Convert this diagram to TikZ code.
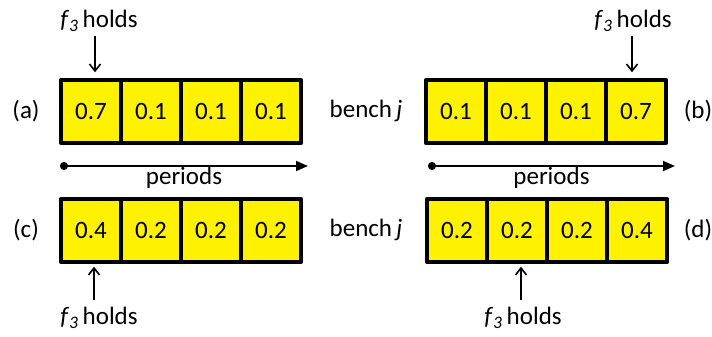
\documentclass[tikz,border=0pt]{standalone}
\usepackage{fontspec}
\setmainfont{Carlito}
\usetikzlibrary{positioning,arrows.meta}
\tikzset{
  probcell/.style={fill=yellow, minimum width=60pt,
    minimum height=62pt, inner sep=0pt, font=\fontsize{25}{29}\selectfont},
  rowline/.style={line width=4.2pt, line join=round},
  txt/.style={inner sep=1pt, font=\fontsize{25}{29}\selectfont},
  hold/.style={-{Straight Barb[length=7pt,width=11pt,line width=1.6pt]}, line width=1.6pt},
  period/.style={{Circle[length=8pt]}-{Triangle[length=12pt,width=10pt]}, line width=1.8pt}
}
\newcommand{\fholds}{\textit{f}\textsubscript{\textit{3}}\,holds}
\begin{document}
\begin{tikzpicture}[x=1pt,y=-1pt]
	\useasboundingbox (0,0) rectangle (712,337);
	% the four rows of cells
	\foreach \v [count=\i] in {0.7,0.1,0.1,0.1}
		\node[probcell] (a\i) at (31+60*\i,111.5) {\v};
	\foreach \v [count=\i] in {0.1,0.1,0.1,0.7}
		\node[probcell] (b\i) at (396+60*\i,111.5) {\v};
	\foreach \v [count=\i] in {0.4,0.2,0.2,0.2}
		\node[probcell] (c\i) at (31+60*\i,230.5) {\v};
	\foreach \v [count=\i] in {0.2,0.2,0.2,0.4}
		\node[probcell] (d\i) at (397+60*\i,230.5) {\v};
	% borders
	\foreach \r in {a,b,c,d} {
		\draw[rowline] (\r1.north west) rectangle (\r4.south east);
		\foreach \i in {1,2,3}
			\draw[rowline] (\r\i.north east) -- (\r\i.south east);
	}
	% labels
	\node[txt] (la) at (26,111) {(a)};
	\node[txt] (lb) at (698,111) {(b)};
	\node[txt] (lc) at (26,230) {(c)};
	\node[txt] (ld) at (698,230) {(d)};
	\node[txt] (bench1) at (366,111) {bench\,\textit{j}};
	\node[txt] (bench2) at (366,230) {bench\,\textit{j}};
	% f3 holds
	\node[txt] (fa) at (99,21) {\fholds};
	\node[txt] (fb) at (633,21) {\fholds};
	\node[txt] (fc) at (99,318) {\fholds};
	\node[txt] (fd) at (523,318) {\fholds};
	\coordinate (ta) at ([xshift=4pt]a1.north);
	\coordinate (tb) at ([xshift=-4pt]b4.north);
	\coordinate (tc) at ([xshift=3pt]c1.south);
	\coordinate (td) at ([xshift=4pt]d2.south);
	\draw[hold, shorten <=3pt, shorten >=8pt] (fa.south -| ta) -- (ta);
	\draw[hold, shorten <=3pt, shorten >=8pt] (fb.south -| tb) -- (tb);
	\draw[hold, shorten <=6pt, shorten >=5pt] (fc.north -| tc) -- (tc);
	\draw[hold, shorten <=6pt, shorten >=5pt] (fd.north -| td) -- (td);
	% periods
	\coordinate (p1) at (60,166);
	\coordinate (p2) at (308,166);
	\coordinate (q1) at (428,166);
	\coordinate (q2) at (675,166);
	\draw[period] (p1) -- (p2) node[txt, midway, below=-1pt] (pl) {periods};
	\draw[period] (q1) -- (q2) node[txt, midway, below=-1pt] (pr) {periods};
\end{tikzpicture}
\end{document}
